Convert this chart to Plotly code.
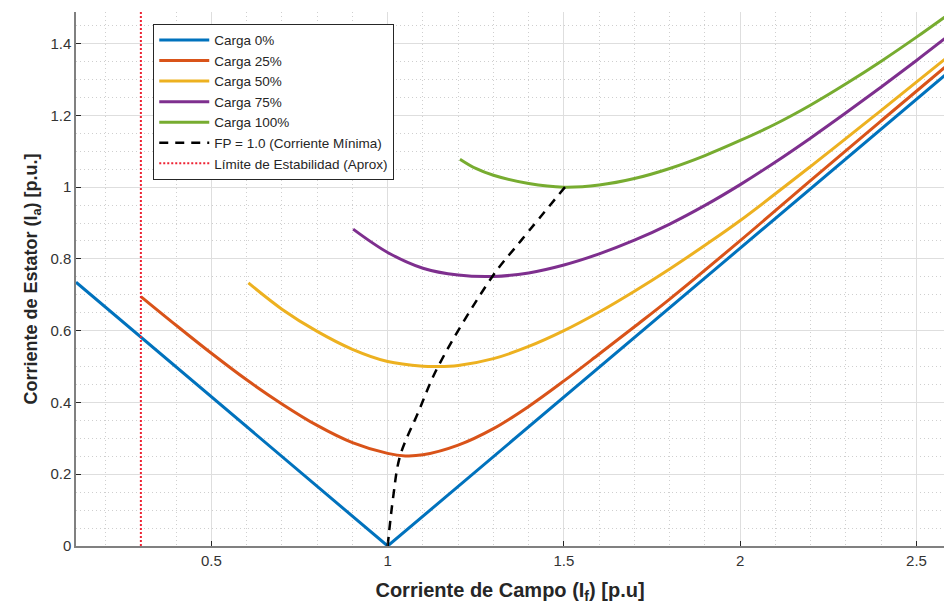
import plotly.graph_objects as go

# Field current (p.u.) vs. armature current (p.u.) — synchronous motor V-curves
if_0 = [0.116, 1.0, 2.6]
ia_0 = [0.735, 0.0, 1.328]

if_25 = [0.3, 0.4, 0.5, 0.6, 0.7, 0.8, 0.9, 1.0, 1.05, 1.1, 1.2, 1.3, 1.4, 1.5,
         1.6, 1.7, 1.8, 2.0, 2.2, 2.4, 2.6]
ia_25 = [0.695, 0.615, 0.537, 0.463, 0.396, 0.336, 0.288, 0.258, 0.251, 0.254, 0.281,
         0.327, 0.389, 0.46, 0.535, 0.611, 0.688, 0.851, 1.019, 1.185, 1.35]

if_50 = [0.605, 0.7, 0.8, 0.9, 1.0, 1.1, 1.14, 1.2, 1.3, 1.4, 1.5, 1.6, 1.7, 1.8,
         1.9, 2.0, 2.2, 2.4, 2.6]
ia_50 = [0.733, 0.66, 0.598, 0.548, 0.514, 0.501, 0.5, 0.503, 0.522, 0.556, 0.6,
         0.652, 0.71, 0.772, 0.838, 0.907, 1.058, 1.214, 1.372]

if_75 = [0.902, 1.0, 1.1, 1.2, 1.3, 1.4, 1.5, 1.6, 1.7, 1.8, 1.9, 2.0, 2.1, 2.2,
         2.3, 2.4, 2.5, 2.6]
ia_75 = [0.883, 0.818, 0.774, 0.755, 0.751, 0.761, 0.783, 0.814, 0.852, 0.897, 0.949,
         1.007, 1.07, 1.137, 1.207, 1.279, 1.353, 1.429]

if_100 = [1.205, 1.25, 1.3, 1.4, 1.5, 1.6, 1.7, 1.8, 1.9, 2.0, 2.1, 2.2, 2.3, 2.4,
          2.5, 2.6]
ia_100 = [1.078, 1.052, 1.033, 1.01, 1.0, 1.006, 1.024, 1.052, 1.088, 1.13, 1.176,
          1.229, 1.288, 1.351, 1.418, 1.488]

# Unity power factor locus (minimum armature current of each curve)
if_fp1 = [1.0, 1.016, 1.035, 1.086, 1.143, 1.297, 1.38, 1.503]
ia_fp1 = [0.0, 0.139, 0.25, 0.371, 0.5, 0.751, 0.853, 1.0]

# Approximate stability limit
if_lim = 0.3

x_range = [0.116, 2.578]
y_range = [0.0, 1.488]

curves = [
    ("Carga 0%", if_0, ia_0, "#0072BD", "linear"),
    ("Carga 25%", if_25, ia_25, "#D95319", "spline"),
    ("Carga 50%", if_50, ia_50, "#EDB120", "spline"),
    ("Carga 75%", if_75, ia_75, "#7E2F8E", "spline"),
    ("Carga 100%", if_100, ia_100, "#77AC30", "spline"),
]

FONT = "Liberation Sans, Arial, sans-serif"

fig = go.Figure()
for name, xs, ys, color, shape in curves:
    fig.add_trace(go.Scatter(
        x=xs, y=ys, mode="lines", name=name,
        line=dict(color=color, width=3, shape=shape),
    ))

fig.add_trace(go.Scatter(
    x=if_fp1, y=ia_fp1, mode="lines", name="FP = 1.0 (Corriente Mínima)",
    line=dict(color="black", width=2.5, dash="9px,7px", shape="spline"),
))

fig.add_trace(go.Scatter(
    x=[if_lim, if_lim], y=[0, 1.6], mode="lines",
    name="Límite de Estabilidad (Aprox)",
    line=dict(color="#ee2233", width=2, dash="2px,2px"),
))

axis_common = dict(
    showgrid=True,
    gridcolor="#dedede",
    gridwidth=1,
    showline=True,
    linecolor="#808080",
    linewidth=1.5,
    ticks="inside",
    ticklen=5,
    tickwidth=1,
    tickcolor="#262626",
    zeroline=False,
    tickfont=dict(family=FONT, size=15, color="#333333"),
)

fig.update_xaxes(
    range=x_range, tick0=0, dtick=0.5,
    minor=dict(dtick=0.1, showgrid=True, gridcolor="#cfcfcf", griddash="1px,3px", ticks=""),
    title=dict(
        text="Corriente de Campo (I<sub>f</sub>) [p.u]",
        font=dict(family=FONT, size=20, color="#262626", weight="bold"),
        standoff=15,
    ),
    **axis_common,
)
fig.update_yaxes(
    range=y_range, tick0=0, dtick=0.2,
    minor=dict(dtick=0.05, showgrid=True, gridcolor="#cfcfcf", griddash="1px,3px", ticks=""),
    title=dict(
        text="Corriente de Estator (I<sub>a</sub>) [p.u.]",
        font=dict(family=FONT, size=18, color="#262626", weight="bold"),
        standoff=8,
    ),
    **axis_common,
)

fig.update_layout(
    width=944, height=608,
    margin=dict(l=76, r=0, t=12, b=62),
    plot_bgcolor="white",
    paper_bgcolor="white",
    font=dict(family=FONT, size=14, color="#262626"),
    showlegend=True,
    legend=dict(
        x=0.089, y=0.978, xanchor="left", yanchor="top",
        bgcolor="white", bordercolor="#262626", borderwidth=1,
        font=dict(family=FONT, size=13.5, color="#262626"),
        itemwidth=50, tracegroupgap=0,
    ),
)

fig.write_html("out.html", config={"displayModeBar": False})
